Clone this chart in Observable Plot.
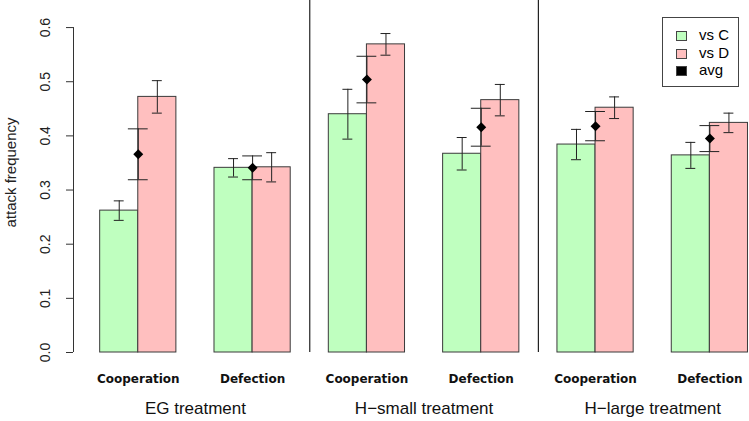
<!DOCTYPE html>
<html>
<head>
<meta charset="utf-8">
<script src="https://cdn.jsdelivr.net/npm/d3@7"></script>
<script src="https://cdn.jsdelivr.net/npm/@observablehq/plot@0.6"></script>
<style>
  html, body { margin: 0; padding: 0; background: #fff; }
  #wrap { position: relative; width: 749px; height: 421px; overflow: hidden; }
  .legend { position: absolute; left: 662px; top: 17px; width: 75px; height: 68px;
            border: 1px solid #444; background: #fff;
            font-family: "Liberation Sans", Arial, sans-serif; font-size: 15px; color: #000; }
  .legend .sw { position: absolute; left: 13px; width: 9px; height: 8px; border: 1px solid #444; box-sizing: content-box; }
  .legend .lab { position: absolute; left: 36px; white-space: nowrap; line-height: 18px; }
</style>
</head>
<body>
<div id="wrap"></div>
<script>
// ---- data ----
const treatments = ["EG treatment", "H\u2212small treatment", "H\u2212large treatment"];
const outcomes = ["Cooperation", "Defection"];
const seriesNames = ["vs C", "vs D", "avg"];
const seriesColors = ["#bfffbf", "#ffbfbf", "#000000"];
const yTicks = [0, 0.1, 0.2, 0.3, 0.4, 0.5, 0.6];

// order: EG-Coop, EG-Def, Hsmall-Coop, Hsmall-Def, Hlarge-Coop, Hlarge-Def
const vsC    = [0.262, 0.341, 0.440, 0.367, 0.384, 0.364];
const vsCErr = [0.018, 0.017, 0.046, 0.030, 0.028, 0.024];
const vsD    = [0.472, 0.342, 0.569, 0.466, 0.452, 0.424];
const vsDErr = [0.030, 0.027, 0.020, 0.029, 0.020, 0.018];
const avg    = [0.366, 0.341, 0.504, 0.416, 0.418, 0.395];
const avgErr = [0.047, 0.022, 0.043, 0.035, 0.027, 0.024];

// ---- layout (R barplot-like: two bars per pair, one-bar gap between pairs) ----
const pairs = [];
treatments.forEach((t, ti) => outcomes.forEach((o, oi) => {
  const k = ti * outcomes.length + oi;
  const start = 1 + 3 * k;
  pairs.push({k, treatment: t, outcome: o, start, center: start + 1});
}));
const bars = [];
pairs.forEach(p => {
  bars.push({series: seriesNames[0], x1: p.start, x2: p.start + 1, c: p.start + 0.5, v: vsC[p.k], e: vsCErr[p.k]});
  bars.push({series: seriesNames[1], x1: p.start + 1, x2: p.start + 2, c: p.start + 1.5, v: vsD[p.k], e: vsDErr[p.k]});
});
const avgs = pairs.map(p => ({c: p.center, v: avg[p.k], e: avgErr[p.k]}));
const groups = treatments.map((t, ti) => {
  const ps = pairs.filter(p => p.treatment === t);
  return {treatment: t, center: d3.mean(ps, p => p.center), left: d3.min(ps, p => p.start) - 0.5};
});
const separators = groups.slice(1).map(g => g.left);

const xDomain = [0.3, 18.04];
const barCap = 0.13, avgCap = 0.26;
const colorOf = s => seriesColors[seriesNames.indexOf(s)];

const chart = Plot.plot({
  width: 749,
  height: 421,
  marginLeft: 73,
  marginRight: 0,
  marginTop: 0,
  marginBottom: 69,
  style: {fontFamily: "'Liberation Sans', Arial, sans-serif", fontSize: "14px", background: "#fff", color: "#000"},
  x: {domain: xDomain, axis: null},
  y: {domain: [0, 0.65], axis: null},
  marks: [
    // bars
    Plot.rect(bars, {x1: "x1", x2: "x2", y1: 0, y2: "v", fill: d => colorOf(d.series), stroke: "#3a3a3a", strokeWidth: 1}),
    // separators between treatments
    Plot.ruleX(separators, {stroke: "#222", strokeWidth: 1.2}),
    // error bars for bars
    Plot.ruleX(bars, {x: "c", y1: d => d.v - d.e, y2: d => d.v + d.e, stroke: "#222", strokeWidth: 1}),
    Plot.ruleY(bars, {y: d => d.v + d.e, x1: d => d.c - barCap, x2: d => d.c + barCap, stroke: "#222", strokeWidth: 1}),
    Plot.ruleY(bars, {y: d => d.v - d.e, x1: d => d.c - barCap, x2: d => d.c + barCap, stroke: "#222", strokeWidth: 1}),
    // avg error bars
    Plot.ruleX(avgs, {x: "c", y1: d => d.v - d.e, y2: d => d.v + d.e, stroke: "#222", strokeWidth: 1}),
    Plot.ruleY(avgs, {y: d => d.v + d.e, x1: d => d.c - avgCap, x2: d => d.c + avgCap, stroke: "#222", strokeWidth: 1}),
    Plot.ruleY(avgs, {y: d => d.v - d.e, x1: d => d.c - avgCap, x2: d => d.c + avgCap, stroke: "#222", strokeWidth: 1}),
    Plot.dot(avgs, {x: "c", y: "v", symbol: "diamond2", r: 4.5, fill: "#000", stroke: "none"}),
    // y axis (R style)
    Plot.ruleX([{y1: yTicks[0], y2: yTicks[yTicks.length - 1]}], {x: () => xDomain[0], y1: "y1", y2: "y2", stroke: "#333", strokeWidth: 1}),
    Plot.axisY({ticks: yTicks, tickSize: 7, tickFormat: () => "", label: null, stroke: "#333"}),
    Plot.text(yTicks, {y: d => d, text: d => d.toFixed(1), frameAnchor: "left", dx: -28, rotate: -90,
                       textAnchor: "middle", lineAnchor: "middle", fontSize: 14, fill: "#222"}),
    Plot.text(["attack frequency"], {frameAnchor: "left", dx: -62, dy: -4, rotate: -90,
                                     textAnchor: "middle", lineAnchor: "middle", fontSize: 15, fill: "#222"}),
    // x labels
    Plot.text(pairs, {x: "center", text: "outcome", frameAnchor: "bottom", dy: 27, lineAnchor: "middle",
                      fontFamily: "'DejaVu Sans', sans-serif", fontWeight: "bold", fontSize: 12, fill: "#111"}),
    Plot.text(groups, {x: "center", text: "treatment", frameAnchor: "bottom", dy: 56, lineAnchor: "middle",
                       fontSize: 17, fill: "#111"})
  ]
});

const wrap = document.getElementById("wrap");
wrap.appendChild(chart);

// legend (drawn inside the plot area, as in the reference)
const legend = document.createElement("div");
legend.className = "legend";
seriesNames.forEach((s, i) => {
  const top = 8 + i * 17.5;
  const sw = document.createElement("div");
  sw.className = "sw";
  sw.style.top = (top + 5) + "px";
  sw.style.background = seriesColors[i];
  legend.appendChild(sw);
  const lab = document.createElement("div");
  lab.className = "lab";
  lab.style.top = top + "px";
  lab.textContent = s;
  legend.appendChild(lab);
});
wrap.appendChild(legend);
</script>
</body>
</html>
